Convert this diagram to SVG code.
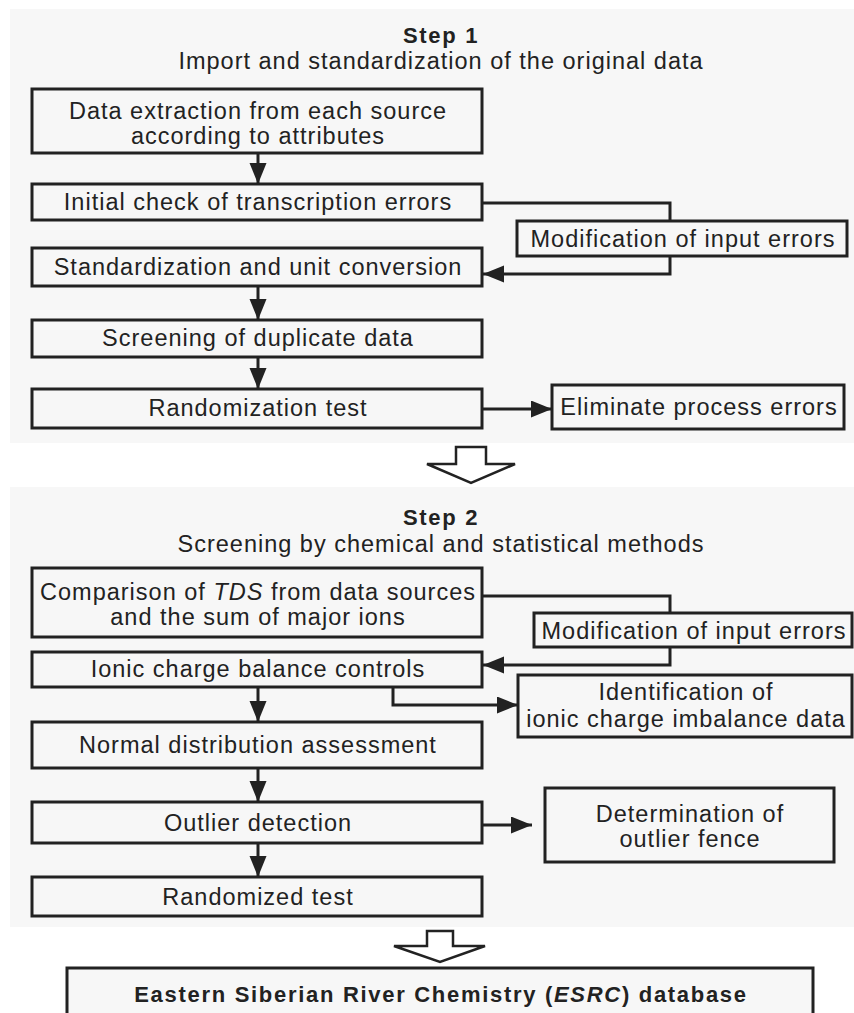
<svg xmlns="http://www.w3.org/2000/svg" width="854" height="1013" viewBox="0 0 854 1013">
<defs>
<style>
.panel{fill:#f7f7f7;stroke:none}
.box{fill:#f7f7f7;stroke:#222;stroke-width:3}
.t{font-family:"Liberation Sans",Arial,sans-serif;font-size:23.5px;letter-spacing:1px;fill:#222;text-anchor:middle}
.h{font-family:"Liberation Sans",Arial,sans-serif;font-size:22px;font-weight:bold;letter-spacing:1.7px;fill:#222;text-anchor:middle}
.c{fill:none;stroke:#222;stroke-width:3}
.hollow{fill:#fff;stroke:#222;stroke-width:2.5;stroke-linejoin:miter}
</style>
<marker id="ah" markerUnits="userSpaceOnUse" markerWidth="24" markerHeight="20" refX="21" refY="8.5" orient="auto">
<path d="M0,0 L21,8.5 L0,17 Z" fill="#222"/>
</marker>
</defs>
<rect width="854" height="1013" fill="#fff"/>
<rect class="panel" x="10" y="9" width="844" height="434"/>
<rect class="panel" x="10" y="487" width="844" height="440"/>

<g id="step1-title">
<text class="h" x="441" y="43">Step 1</text>
<text class="t" x="441" y="69">Import and standardization of the original data</text>
</g>
<g id="n1"><rect class="box" x="32" y="89" width="450" height="64"/>
<text class="t" x="258" y="119">Data extraction from each source</text>
<text class="t" x="258" y="144">according to attributes</text></g>
<g id="n2"><rect class="box" x="32" y="184" width="450" height="36"/>
<text class="t" x="258" y="210">Initial check of transcription errors</text></g>
<g id="n3"><rect class="box" x="32" y="248" width="450" height="38"/>
<text class="t" x="258" y="275">Standardization and unit conversion</text></g>
<g id="n4"><rect class="box" x="32" y="320" width="450" height="37"/>
<text class="t" x="258" y="346">Screening of duplicate data</text></g>
<g id="n5"><rect class="box" x="32" y="389" width="450" height="39"/>
<text class="t" x="258" y="416">Randomization test</text></g>
<g id="n6"><rect class="box" x="517" y="221" width="330" height="35"/>
<text class="t" x="683" y="247">Modification of input errors</text></g>
<g id="n7"><rect class="box" x="552" y="385" width="292" height="44"/>
<text class="t" x="699" y="415">Eliminate process errors</text></g>

<g id="step2-title">
<text class="h" x="441" y="525">Step 2</text>
<text class="t" x="441" y="552">Screening by chemical and statistical methods</text>
</g>
<g id="n8"><rect class="box" x="32" y="568" width="450" height="69"/>
<text class="t" x="258" y="600">Comparison of <tspan font-style="italic">TDS</tspan> from data sources</text>
<text class="t" x="258" y="625">and the sum of major ions</text></g>
<g id="n9"><rect class="box" x="32" y="652" width="450" height="35"/>
<text class="t" x="258" y="677">Ionic charge balance controls</text></g>
<g id="n10"><rect class="box" x="534" y="613" width="318" height="34"/>
<text class="t" x="694" y="639">Modification of input errors</text></g>
<g id="n11"><rect class="box" x="518" y="675" width="334" height="62"/>
<text class="t" x="686" y="700">Identification of</text>
<text class="t" x="686" y="727">ionic charge imbalance data</text></g>
<g id="n12"><rect class="box" x="32" y="722" width="450" height="46"/>
<text class="t" x="258" y="753">Normal distribution assessment</text></g>
<g id="n13"><rect class="box" x="32" y="802" width="450" height="41"/>
<text class="t" x="258" y="831">Outlier detection</text></g>
<g id="n14"><rect class="box" x="545" y="788" width="289" height="74"/>
<text class="t" x="690" y="822">Determination of</text>
<text class="t" x="690" y="847">outlier fence</text></g>
<g id="n15"><rect class="box" x="32" y="877" width="450" height="39"/>
<text class="t" x="258" y="905">Randomized test</text></g>
<g id="n16"><rect class="box" x="67" y="968" width="746" height="60" fill="#fff"/>
<text class="h" x="441" y="1002">Eastern Siberian River Chemistry (<tspan font-style="italic">ESRC</tspan>) database</text></g>

<g id="connectors">
<path class="c" d="M258,153 V184" marker-end="url(#ah)"/>
<path class="c" d="M482,203 H670 V221"/>
<path class="c" d="M670,256 V274 H483" marker-end="url(#ah)"/>
<path class="c" d="M258,287 V320" marker-end="url(#ah)"/>
<path class="c" d="M258,357 V389" marker-end="url(#ah)"/>
<path class="c" d="M482,409 H552" marker-end="url(#ah)"/>
<path class="c" d="M482,596 H670 V613"/>
<path class="c" d="M670,647 V665 H483" marker-end="url(#ah)"/>
<path class="c" d="M393,687 V705 H518" marker-end="url(#ah)"/>
<path class="c" d="M258,687 V722" marker-end="url(#ah)"/>
<path class="c" d="M258,768 V802" marker-end="url(#ah)"/>
<path class="c" d="M258,843 V877" marker-end="url(#ah)"/>
<path class="c" d="M482,825 H532" marker-end="url(#ah)"/>
<polygon class="hollow" points="456,447 486,447 486,464 515,464 471,483 427,464 456,464"/>
<polygon class="hollow" points="427,931 453,931 453,946 485,946 440,962 394,946 427,946"/>
</g>
</svg>
